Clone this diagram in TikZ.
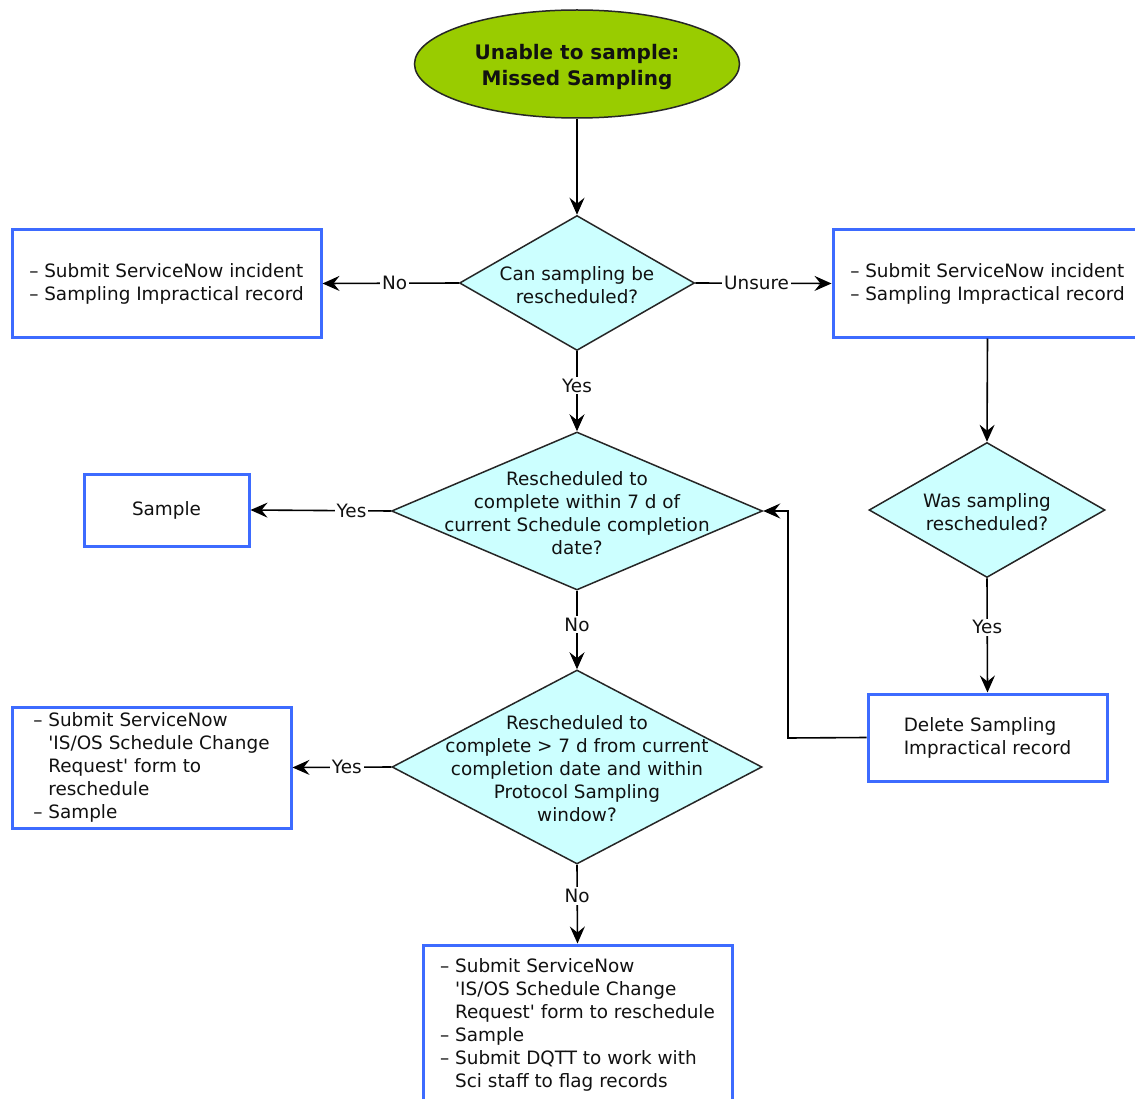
\documentclass[tikz,border=0pt]{standalone}
\usepackage{fontspec}
\setmainfont{DejaVu Sans}
\usetikzlibrary{shapes.geometric,arrows.meta}
\definecolor{boxblue}{HTML}{3D6BFF}
\definecolor{dfill}{HTML}{CCFFFF}
\definecolor{efill}{HTML}{99CC00}
\definecolor{txt}{HTML}{111111}
\newcommand\dsh{\makebox[15pt][l]{–}}
\newcommand\ind{\hspace*{15pt}}
\newcommand\sq{\textquotesingle}
\tikzset{
  base/.style={font=\fontsize{18.4}{23}\selectfont, text=txt},
  boxst/.style={base, draw=boxblue, line width=3pt, fill=white, inner sep=0pt, align=left},
  dia/.style={diamond, draw=black!85, line width=1.5pt, fill=dfill, inner sep=0pt},
  dtext/.style={base, align=center, inner sep=0pt},
  arr/.style={line width=1.6pt, draw=black, -{Stealth[length=17pt,width=15pt,inset=6pt]}},
  lbl/.style={base, fill=white, inner sep=2pt}
}
\begin{document}
\begin{tikzpicture}[x=1pt,y=-1pt]
\clip (0,0) rectangle (1135,1099);
\fill[white] (0,0) rectangle (1135,1099);

% start ellipse
\node[ellipse, draw=black!85, line width=1.5pt, fill=efill, minimum width=325pt, minimum height=108pt, inner sep=0pt] (start) at (577,64) {};
\node[font=\fontsize{20}{26}\selectfont\bfseries, text=txt, align=center, inner sep=0pt] (startt) at (577,67)
  {Unable to sample:\\Missed Sampling};

% diamonds
\node[dia, minimum width=235pt, minimum height=135pt] (d1) at (577,283) {};
\node[dtext] (d1t) at (577,285) {Can sampling be\\rescheduled?};
\node[dia, minimum width=371pt, minimum height=158pt] (d2) at (577,511) {};
\node[dtext] (d2t) at (577,513) {Rescheduled to\\complete within 7 d of\\current Schedule completion\\date?};
\node[dia, minimum width=370pt, minimum height=194pt] (d3) at (577,767) {};
\node[dtext] (d3t) at (577,769) {Rescheduled to\\complete > 7 d from current\\completion date and within\\Protocol Sampling\\window?};
\node[dia, minimum width=236pt, minimum height=135pt] (d4) at (987,510) {};
\node[dtext] (d4t) at (987,512) {Was sampling\\rescheduled?};

% boxes
\node[boxst, minimum width=309pt, minimum height=107pt] (b1) at (166.5,283.5)
  {\dsh Submit ServiceNow incident\\\dsh Sampling Impractical record};
\node[boxst, minimum width=309pt, minimum height=107pt] (b2) at (987.5,283.5)
  {\dsh Submit ServiceNow incident\\\dsh Sampling Impractical record};
\node[boxst, minimum width=165pt, minimum height=72pt] (samp) at (166.5,510) {Sample};
\node[boxst, minimum width=279pt, minimum height=121pt] (b3) at (151.5,767.5)
  {\dsh Submit ServiceNow\\\ind\sq IS/OS Schedule Change\\\ind Request\sq{} form to\\\ind reschedule\\\dsh Sample};
\node[boxst, minimum width=239pt, minimum height=87pt] (del) at (987.5,737.5)
  {Delete Sampling\\Impractical record};
\node[boxst, minimum width=309pt, minimum height=160pt] (b4) at (577.5,1025)
  {\dsh Submit ServiceNow\\\ind\sq IS/OS Schedule Change\\\ind Request\sq{} form to reschedule\\\dsh Sample\\\dsh Submit DQTT to work with\\\ind Sci staff to flag records};

\coordinate (bend) at (788,738);

% connectors
\draw[arr] (start.south) -- (d1.north);
\draw[arr] (d1.west) -- node[lbl, pos=0.47] {No} (b1.east);
\draw[arr] (d1.east) -- node[lbl, pos=0.45] {Unsure} (b2.west);
\draw[arr] (d1.south) -- node[lbl, pos=0.43] {Yes} (d2.north);
\draw[arr] (d2.west) -- node[lbl, pos=0.28] {Yes} (samp.east);
\draw[arr] (d2.south) -- node[lbl, pos=0.43] {No} (d3.north);
\draw[arr] (d3.west) -- node[lbl, pos=0.45] {Yes} (b3.east);
\draw[arr] (d3.south) -- node[lbl, pos=0.4] {No} (b4.north);
\draw[arr] (b2.south) -- (d4.north);
\draw[arr] (d4.south) -- node[lbl, pos=0.43] {Yes} (del.north);
\draw[arr] (del.west) -- (bend) |- (d2.east);
\end{tikzpicture}
\end{document}
